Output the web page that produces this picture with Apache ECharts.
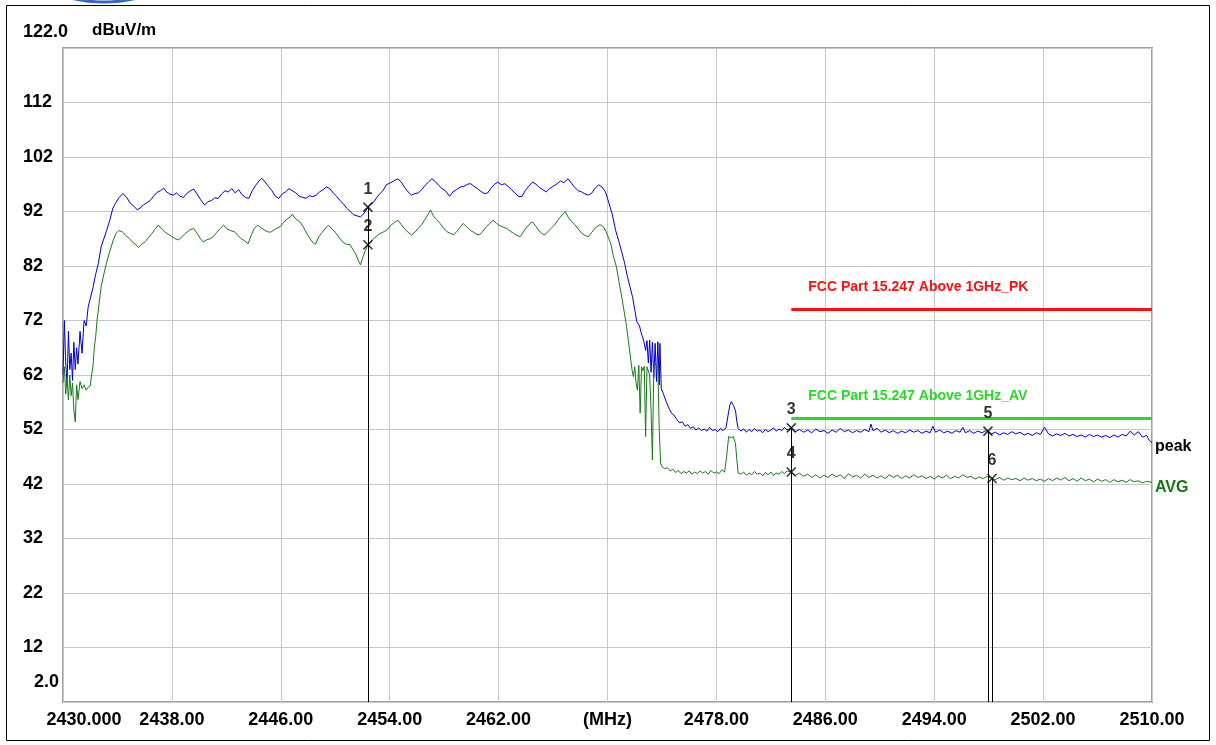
<!DOCTYPE html>
<html>
<head>
<meta charset="utf-8">
<title>Radiated emission 2430-2510 MHz</title>
<script src="https://cdn.jsdelivr.net/npm/echarts@6/dist/echarts.min.js"></script>
<style>
  html,body{margin:0;padding:0;background:#fff;}
  #chart{width:1216px;height:745px;}
</style>
</head>
<body>
<div id="chart"></div>
<script>
// axis ranges and tick labels
var freqMin = 2430, freqMax = 2510;
var levelMin = 2, levelMax = 122;
var xTickLabels = ['2430.000','2438.00','2446.00','2454.00','2462.00','(MHz)','2478.00','2486.00','2494.00','2502.00','2510.00'];
var yTickLabels = ['2.0','12','22','32','42','52','62','72','82','92','102','112','122.0'];

// peak trace [MHz, dBuV/m]
var peakTrace = [
  [2430.0,62],[2430.1,72],[2430.2,64],[2430.3,60.5],[2430.4,70],[2430.5,63],[2430.6,66],[2430.7,61],[2430.8,68],[2430.9,63],
  [2431.0,67],[2431.1,64],[2431.25,70],[2431.4,66],[2431.55,72],[2431.7,71],[2431.85,74.5],[2432.0,76],[2432.2,78],[2432.4,80.5],
  [2432.6,82.5],[2432.8,85.5],[2433.0,87],[2433.2,88.5],[2433.45,90.5],[2433.65,92.5],[2433.85,93.5],[2434.1,94.5],[2434.4,95.3],[2434.7,94.5],
  [2434.95,93.5],[2435.2,93],[2435.45,92.3],[2435.65,92.6],[2435.9,93.2],[2436.15,93.6],[2436.4,94],[2436.65,94.8],[2436.9,95.5],[2437.15,95.8],
  [2437.4,96.3],[2437.6,95.6],[2437.85,95.2],[2438.1,95.0],[2438.35,95.4],[2438.6,94.8],[2438.85,94.6],[2439.1,95.3],[2439.35,95.8],[2439.6,96.1],
  [2439.85,95.2],[2440.1,94.2],[2440.4,93.2],[2440.65,93.8],[2440.9,94.0],[2441.15,94.5],[2441.4,94.4],[2441.65,95.2],[2441.9,95.8],[2442.15,95.6],
  [2442.4,96.2],[2442.65,95.4],[2442.9,96.0],[2443.15,95.1],[2443.4,94.6],[2443.65,94.4],[2443.9,95.8],[2444.15,96.8],[2444.4,97.6],[2444.6,98.1],
  [2444.85,97.4],[2445.1,96.6],[2445.35,95.8],[2445.6,94.8],[2445.85,94.4],[2446.1,95.2],[2446.35,95.6],[2446.6,96.2],[2446.85,95.8],[2447.1,95.4],
  [2447.35,94.8],[2447.6,94.6],[2447.85,94.4],[2448.1,94.9],[2448.35,94.7],[2448.6,95.0],[2448.85,95.6],[2449.1,96.0],[2449.35,96.5],[2449.6,96.2],
  [2449.85,95.4],[2450.1,94.8],[2450.35,94.0],[2450.6,93.4],[2450.85,92.6],[2451.1,92.0],[2451.35,91.4],[2451.6,91.2],[2451.85,91.0],[2452.1,91.6],
  [2452.4,92.8],[2452.6,93.4],[2452.85,93.8],[2453.0,94.4],[2453.25,95.2],[2453.5,95.8],[2453.75,96.9],[2454.0,97.2],[2454.3,97.6],[2454.6,98.0],
  [2454.85,97.4],[2455.1,96.4],[2455.35,95.6],[2455.6,95.0],[2455.85,95.3],[2456.1,95.4],[2456.35,96.0],[2456.6,96.8],[2456.85,97.4],[2457.1,98.0],
  [2457.35,97.5],[2457.6,96.8],[2457.85,96.2],[2458.1,95.8],[2458.4,94.8],[2458.65,95.6],[2458.9,96.0],[2459.2,96.5],[2459.45,96.6],[2459.7,97.0],
  [2459.95,97.1],[2460.2,96.6],[2460.45,96.2],[2460.7,95.7],[2460.95,95.3],[2461.2,95.4],[2461.45,96.3],[2461.7,97.0],[2461.95,97.4],[2462.2,96.9],
  [2462.45,97.1],[2462.7,96.6],[2462.95,96.0],[2463.2,95.4],[2463.45,94.8],[2463.7,94.7],[2463.95,95.8],[2464.2,96.6],[2464.5,97.4],[2464.75,97.0],
  [2465.0,96.4],[2465.25,96.0],[2465.5,95.6],[2465.75,96.2],[2466.0,96.6],[2466.3,97.1],[2466.55,97.6],[2466.8,97.3],[2467.1,98.0],[2467.35,97.2],
  [2467.6,96.4],[2467.85,95.8],[2468.1,95.6],[2468.35,95.2],[2468.6,95.0],[2468.85,95.4],[2469.1,96.3],[2469.35,96.9],[2469.6,96.5],[2469.85,95.6],
  [2470.1,93.6],[2470.35,91.5],[2470.6,88.5],[2470.85,86.4],[2471.05,84.5],[2471.25,82.6],[2471.45,80.2],[2471.65,78.2],[2471.85,76.2],[2472.0,74.0],
  [2472.15,71.8],[2472.35,71.0],[2472.5,69.5],[2472.65,68.4],[2472.8,66.5],[2472.9,68.3],[2473.0,64.2],[2473.1,68.4],[2473.2,62.5],[2473.3,68.0],
  [2473.4,61.5],[2473.5,67.8],[2473.6,60.8],[2473.7,68.1],[2473.8,60.2],[2473.85,67.8],[2473.95,59.5],[2474.1,58.6],[2474.3,57.2],[2474.5,56.0],
  [2474.7,55.0],[2474.9,54.6],[2475.1,53.8],[2475.3,53.2],[2475.5,53.4],[2475.7,52.6],[2475.9,52.9],[2476.1,52.2],[2476.3,52.5],[2476.5,51.9],
  [2476.7,52.3],[2476.9,51.8],[2477.1,52.1],[2477.3,51.7],[2477.5,52.4],[2477.7,51.8],[2477.9,52.0],[2478.1,51.6],[2478.3,52.2],[2478.5,51.8],
  [2478.7,52.3],[2478.85,54.5],[2479.0,56.6],[2479.1,57.1],[2479.25,56.4],[2479.4,55.5],[2479.5,53.5],[2479.6,52.2],[2479.8,51.7],[2480.0,52.1],
  [2480.2,51.5],[2480.4,52.0],[2480.6,51.6],[2480.8,52.2],[2481.0,51.7],[2481.2,51.9],[2481.4,51.4],[2481.6,52.0],[2481.8,51.6],[2482.0,51.9],
  [2482.2,52.3],[2482.4,51.7],[2482.6,52.1],[2482.8,51.8],[2483.0,52.4],[2483.2,51.9],[2483.5,52.3],[2483.8,51.6],[2484.1,52.0],[2484.4,51.5],
  [2484.7,51.9],[2485.0,51.4],[2485.3,52.1],[2485.6,51.6],[2485.9,51.8],[2486.2,51.3],[2486.5,51.9],[2486.8,51.5],[2487.1,52.2],[2487.4,51.6],
  [2487.7,51.9],[2488.0,51.4],[2488.3,51.8],[2488.6,51.5],[2488.9,52.0],[2489.2,51.6],[2489.35,53.0],[2489.5,51.8],[2489.8,52.2],[2490.1,51.5],
  [2490.4,51.9],[2490.7,51.4],[2491.0,51.8],[2491.3,51.3],[2491.6,51.7],[2491.9,51.4],[2492.2,51.9],[2492.5,51.5],[2492.8,51.8],[2493.1,51.3],
  [2493.4,51.7],[2493.7,51.4],[2493.9,52.6],[2494.1,51.5],[2494.4,51.9],[2494.7,51.4],[2495.0,51.7],[2495.3,51.3],[2495.6,51.8],[2495.9,51.5],
  [2496.1,52.4],[2496.3,51.4],[2496.6,51.8],[2496.9,51.3],[2497.2,51.7],[2497.5,51.4],[2497.8,51.8],[2497.95,51.6],[2498.2,51.2],[2498.5,51.5],
  [2498.8,51.0],[2499.1,51.4],[2499.4,51.1],[2499.7,51.6],[2500.0,51.2],[2500.3,51.5],[2500.6,51.0],[2500.9,51.3],[2501.2,50.9],[2501.5,51.4],
  [2501.8,51.1],[2502.1,52.4],[2502.4,51.2],[2502.7,50.8],[2503.0,51.2],[2503.3,50.9],[2503.6,51.3],[2503.9,50.8],[2504.2,51.1],[2504.5,50.7],
  [2504.8,51.0],[2505.1,50.6],[2505.4,51.1],[2505.7,50.7],[2506.0,51.0],[2506.3,50.6],[2506.6,50.9],[2506.9,50.5],[2507.2,51.0],[2507.5,50.6],
  [2507.8,51.1],[2508.1,50.8],[2508.4,51.7],[2508.7,51.0],[2509.0,51.6],[2509.3,50.6],[2509.6,50.9],[2509.8,50.0],[2510.0,49.6]
];

// average trace [MHz, dBuV/m]
var avgTrace = [
  [2430.0,60.5],[2430.1,63.5],[2430.2,58.5],[2430.3,61.5],[2430.4,57.4],[2430.5,62.0],[2430.6,58.2],[2430.7,60.5],[2430.8,55.5],[2430.9,53.4],
  [2431.0,60.2],[2431.1,57.5],[2431.25,60.8],[2431.4,59.5],[2431.55,60.2],[2431.7,59.2],[2431.85,59.8],[2432.0,60.0],[2432.1,62.0],[2432.2,63.5],
  [2432.3,67.0],[2432.4,69.0],[2432.5,72.0],[2432.65,75.0],[2432.8,78.2],[2433.0,80.5],[2433.2,82.6],[2433.45,84.8],[2433.7,86.8],[2433.9,88.0],
  [2434.1,88.5],[2434.35,88.3],[2434.6,87.6],[2434.85,87.1],[2435.1,86.4],[2435.35,85.9],[2435.55,85.4],[2435.8,86.0],[2436.05,86.5],[2436.3,87.3],
  [2436.55,88.0],[2436.8,88.9],[2437.0,89.5],[2437.25,88.8],[2437.5,88.2],[2437.75,87.8],[2438.0,87.4],[2438.25,87.0],[2438.5,86.8],[2438.75,87.4],
  [2439.0,88.0],[2439.3,88.6],[2439.6,88.9],[2439.85,88.0],[2440.1,87.0],[2440.3,86.4],[2440.55,86.8],[2440.8,87.0],[2441.05,87.4],[2441.3,88.2],
  [2441.55,88.9],[2441.8,89.5],[2442.05,88.8],[2442.3,88.5],[2442.6,88.3],[2442.85,87.6],[2443.1,87.0],[2443.35,86.6],[2443.6,86.1],[2443.85,87.8],
  [2444.05,88.9],[2444.3,89.5],[2444.55,89.0],[2444.8,88.6],[2445.0,88.3],[2445.25,88.2],[2445.5,88.6],[2445.75,89.0],[2445.95,89.2],[2446.2,90.0],
  [2446.45,90.6],[2446.7,91.0],[2446.85,91.5],[2447.1,90.6],[2447.4,90.1],[2447.65,89.2],[2447.9,88.0],[2448.15,87.0],[2448.4,86.2],[2448.55,86.0],
  [2448.8,87.4],[2449.05,88.2],[2449.3,89.0],[2449.5,89.5],[2449.75,88.8],[2450.0,88.2],[2450.3,87.2],[2450.55,86.4],[2450.8,86.0],[2451.1,85.9],
  [2451.3,85.0],[2451.5,84.2],[2451.7,83.0],[2451.85,82.2],[2452.0,83.4],[2452.2,84.8],[2452.4,85.9],[2452.6,86.4],[2452.8,87.0],[2453.0,87.4],
  [2453.25,87.9],[2453.5,88.2],[2453.8,88.6],[2454.05,89.4],[2454.35,90.0],[2454.6,90.4],[2454.85,89.6],[2455.1,88.8],[2455.35,88.2],[2455.6,87.7],
  [2455.85,88.2],[2456.1,88.9],[2456.35,89.6],[2456.6,90.6],[2456.85,91.6],[2457.0,92.3],[2457.2,91.2],[2457.45,90.5],[2457.7,89.8],[2457.95,89.0],
  [2458.2,88.3],[2458.45,88.0],[2458.7,87.7],[2458.95,88.4],[2459.2,89.2],[2459.4,89.8],[2459.65,89.2],[2459.9,88.6],[2460.15,88.2],[2460.4,87.8],
  [2460.6,87.7],[2460.85,88.4],[2461.1,89.2],[2461.35,89.8],[2461.6,90.4],[2461.85,89.8],[2462.1,89.4],[2462.35,89.1],[2462.6,88.9],[2462.85,88.4],
  [2463.1,88.0],[2463.35,87.6],[2463.6,87.4],[2463.85,88.4],[2464.1,89.2],[2464.3,89.8],[2464.5,90.1],[2464.75,89.2],[2465.0,88.4],[2465.2,87.9],
  [2465.4,87.7],[2465.65,88.4],[2465.9,89.0],[2466.1,89.5],[2466.35,90.4],[2466.6,91.2],[2466.9,92.0],[2467.1,91.0],[2467.35,90.2],[2467.6,89.6],
  [2467.85,88.8],[2468.1,88.0],[2468.35,87.6],[2468.6,87.4],[2468.85,88.2],[2469.1,89.0],[2469.45,89.6],[2469.7,89.2],[2469.9,88.3],[2470.1,87.0],
  [2470.25,86.0],[2470.45,83.6],[2470.65,81.9],[2470.85,79.0],[2471.0,77.0],[2471.2,74.0],[2471.4,70.9],[2471.6,67.0],[2471.8,63.0],[2471.9,61.7],
  [2472.0,63.5],[2472.1,60.5],[2472.2,59.2],[2472.3,63.8],[2472.4,55.0],[2472.5,63.5],[2472.6,62.8],[2472.7,63.6],[2472.8,50.7],[2472.9,63.5],
  [2473.0,63.2],[2473.1,62.0],[2473.2,55.5],[2473.3,46.4],[2473.4,63.6],[2473.55,64.0],[2473.7,63.2],[2473.8,52.0],[2473.9,45.8],[2474.0,45.2],
  [2474.2,44.8],[2474.4,45.0],[2474.6,44.4],[2474.8,44.7],[2475.0,44.1],[2475.2,44.5],[2475.4,43.9],[2475.6,44.3],[2475.8,44.0],[2476.0,44.4],
  [2476.2,43.8],[2476.4,44.2],[2476.6,43.9],[2476.8,44.4],[2477.0,44.0],[2477.2,44.3],[2477.4,43.8],[2477.6,44.5],[2477.8,44.0],[2478.0,44.2],
  [2478.2,43.9],[2478.4,44.6],[2478.6,44.2],[2478.75,47.0],[2478.9,50.7],[2479.1,50.5],[2479.25,50.7],[2479.4,49.4],[2479.5,46.5],[2479.6,44.0],
  [2479.8,43.8],[2480.0,44.2],[2480.2,43.6],[2480.4,44.0],[2480.6,43.7],[2480.8,44.3],[2481.0,43.8],[2481.2,44.0],[2481.4,43.5],[2481.6,44.1],
  [2481.8,43.7],[2482.0,44.2],[2482.2,43.6],[2482.4,44.0],[2482.6,43.8],[2482.8,44.3],[2483.0,43.9],[2483.2,44.4],[2483.5,44.2],[2483.8,43.6],
  [2484.1,44.0],[2484.4,43.4],[2484.7,43.8],[2485.0,43.2],[2485.3,43.7],[2485.6,43.1],[2485.9,43.6],[2486.2,43.2],[2486.5,43.8],[2486.8,43.3],
  [2487.1,43.7],[2487.4,43.0],[2487.7,43.9],[2488.0,43.3],[2488.3,43.6],[2488.6,43.1],[2488.9,43.8],[2489.2,43.2],[2489.5,43.6],[2489.8,43.1],
  [2490.1,43.5],[2490.4,43.0],[2490.7,43.7],[2491.0,43.2],[2491.3,43.6],[2491.6,43.0],[2491.9,43.5],[2492.2,43.1],[2492.5,43.7],[2492.8,43.2],
  [2493.1,43.5],[2493.4,43.0],[2493.7,43.4],[2494.0,42.9],[2494.3,43.5],[2494.6,43.1],[2494.9,43.6],[2495.2,43.0],[2495.5,43.4],[2495.8,43.1],
  [2496.1,43.7],[2496.4,43.2],[2496.7,43.4],[2497.0,42.9],[2497.3,43.3],[2497.6,43.0],[2497.9,43.4],[2498.25,43.0],[2498.5,42.8],[2498.8,43.2],
  [2499.1,42.7],[2499.4,43.1],[2499.7,42.8],[2500.0,43.0],[2500.3,42.6],[2500.6,43.1],[2500.9,42.7],[2501.2,43.0],[2501.5,42.6],[2501.8,42.9],
  [2502.1,42.5],[2502.4,43.0],[2502.7,42.6],[2503.0,43.1],[2503.3,42.7],[2503.6,43.2],[2503.9,42.6],[2504.2,43.0],[2504.5,42.5],[2504.8,43.1],
  [2505.1,42.6],[2505.4,42.9],[2505.7,42.4],[2506.0,42.9],[2506.3,42.5],[2506.6,42.8],[2506.9,42.3],[2507.2,42.8],[2507.5,42.4],[2507.8,42.7],
  [2508.1,42.3],[2508.4,42.8],[2508.7,42.4],[2509.0,42.6],[2509.3,42.2],[2509.6,42.5],[2510.0,42.3]
];

// markers
var markerFreq = [2452.4, 2452.4, 2483.5, 2483.5, 2497.95, 2498.25];
var markerLevel = [92.8, 85.9, 52.3, 44.2, 51.7, 43.0];
var markerNames = ['1','2','3','4','5','6'];

// FCC limit lines
var limitFreq = [2483.5, 2510];
var limitPK = 74;
var limitAV = 54;
var limitNamePK = 'FCC Part 15.247 Above 1GHz_PK';
var limitNameAV = 'FCC Part 15.247 Above 1GHz_AV';

var FONT = "'Liberation Sans', Arial, sans-serif";

var chart = echarts.init(document.getElementById('chart'));

var markerData = [];
var markerLines = [];
for (var i = 0; i < markerFreq.length; i++) {
  markerData.push([markerFreq[i], markerLevel[i]]);
  markerLines.push([{coord: [markerFreq[i], markerLevel[i]]}, {coord: [markerFreq[i], levelMin]}]);
}

function limitSeries(level, name, color) {
  return {
    type: 'line',
    xAxisIndex: 1, yAxisIndex: 1,
    data: [[limitFreq[0], level], [limitFreq[1], level]],
    showSymbol: false,
    symbol: 'none',
    lineStyle: {color: color, width: 3},
    z: 3,
    markPoint: {
      symbol: 'circle', symbolSize: 0,
      data: [{coord: [limitFreq[0], level]}],
      label: {
        show: true, formatter: name, position: 'top', align: 'left',
        offset: [17, -10], color: color, fontFamily: FONT, fontWeight: 'bold', fontSize: 14
      }
    }
  };
}

var option = {
  animation: false,
  backgroundColor: '#fff',
  grid: {left: 63, top: 48, right: 64, bottom: 43, show: true, borderColor: '#a0a0a0', borderWidth: 2, backgroundColor: '#fff'},
  graphic: [
    // outer frame and the edge of the logo cut off at the top
    {type: 'rect', shape: {x: 6.5, y: 5.5, width: 1203, height: 735}, style: {fill: 'none', stroke: '#000', lineWidth: 1}, silent: true},
    {type: 'circle', shape: {cx: 104, cy: -138, r: 140}, style: {fill: 'none', stroke: '#3b68c4', lineWidth: 3}, silent: true}
  ],
  xAxis: [
    {
      type: 'value', min: 0, max: freqMax - freqMin, interval: 8, position: 'bottom',
      axisLine: {show: false}, axisTick: {show: false},
      splitLine: {show: true, lineStyle: {color: '#c8c8c8', width: 1}},
      axisLabel: {
        margin: 9, color: '#000', fontFamily: FONT, fontWeight: 'bold', fontSize: 18,
        showMinLabel: true, showMaxLabel: true,
        formatter: function (v) {
          var idx = Math.round(v / 8);
          if (idx === 0) return '{first|' + xTickLabels[idx] + '}';
          return xTickLabels[idx];
        },
        rich: {first: {padding: [0, 0, 0, 42], color: '#000', fontFamily: FONT, fontWeight: 'bold', fontSize: 18}}
      }
    },
    {type: 'value', min: freqMin, max: freqMax, show: false}
  ],
  yAxis: [
    {
      type: 'value', min: 0, max: levelMax - levelMin, interval: 10,
      name: 'dBuV/m', nameLocation: 'end', nameGap: 9,
      nameTextStyle: {align: 'left', padding: [0, 0, 0, 29], color: '#000', fontFamily: FONT, fontWeight: 'bold', fontSize: 17},
      axisLine: {show: false}, axisTick: {show: false},
      splitLine: {show: true, lineStyle: {color: '#c8c8c8', width: 1}},
      axisLabel: {
        align: 'left', margin: 40, color: '#000', fontFamily: FONT, fontWeight: 'bold', fontSize: 18,
        showMinLabel: true, showMaxLabel: true,
        formatter: function (v) {
          var idx = Math.round(v / 10);
          if (idx === 0) return '{bot|' + yTickLabels[idx] + '}';
          if (idx === yTickLabels.length - 1) return '{top|' + yTickLabels[idx] + '}';
          return yTickLabels[idx];
        },
        rich: {
          bot: {padding: [0, 0, 40, 11], color: '#000', fontFamily: FONT, fontWeight: 'bold', fontSize: 18},
          top: {padding: [0, 0, 32, 0], color: '#000', fontFamily: FONT, fontWeight: 'bold', fontSize: 18}
        }
      }
    },
    {type: 'value', min: levelMin, max: levelMax, show: false}
  ],
  series: [
    limitSeries(limitPK, limitNamePK, '#ff1010'),
    limitSeries(limitAV, limitNameAV, '#22dd22'),
    {
      type: 'line', name: 'peak',
      xAxisIndex: 1, yAxisIndex: 1,
      data: peakTrace, showSymbol: false, symbol: 'none',
      lineStyle: {color: '#0000cc', width: 1},
      z: 4,
      endLabel: {show: true, formatter: 'peak', distance: 3, offset: [0, 4], color: '#000', fontFamily: FONT, fontWeight: 'bold', fontSize: 16}
    },
    {
      type: 'line', name: 'AVG',
      xAxisIndex: 1, yAxisIndex: 1,
      data: avgTrace, showSymbol: false, symbol: 'none',
      lineStyle: {color: '#1a7a1a', width: 1},
      z: 4,
      endLabel: {show: true, formatter: 'AVG', distance: 3, offset: [0, 5], color: '#137a13', fontFamily: FONT, fontWeight: 'bold', fontSize: 16}
    },
    {
      type: 'scatter',
      xAxisIndex: 1, yAxisIndex: 1,
      data: markerData,
      symbol: 'path://M0,0L10,10M0,10L10,0',
      symbolSize: 9,
      itemStyle: {color: 'none', borderColor: '#000', borderWidth: 1.5},
      z: 6,
      label: {
        show: true, position: 'top', distance: 3,
        formatter: function (p) { return markerNames[p.dataIndex]; },
        color: '#000', fontFamily: FONT, fontWeight: 'bold', fontSize: 16
      },
      markLine: {
        silent: true, symbol: 'none', animation: false,
        label: {show: false},
        lineStyle: {color: '#000', width: 1, type: 'solid'},
        data: markerLines
      }
    }
  ]
};

chart.setOption(option);
</script>
</body>
</html>
